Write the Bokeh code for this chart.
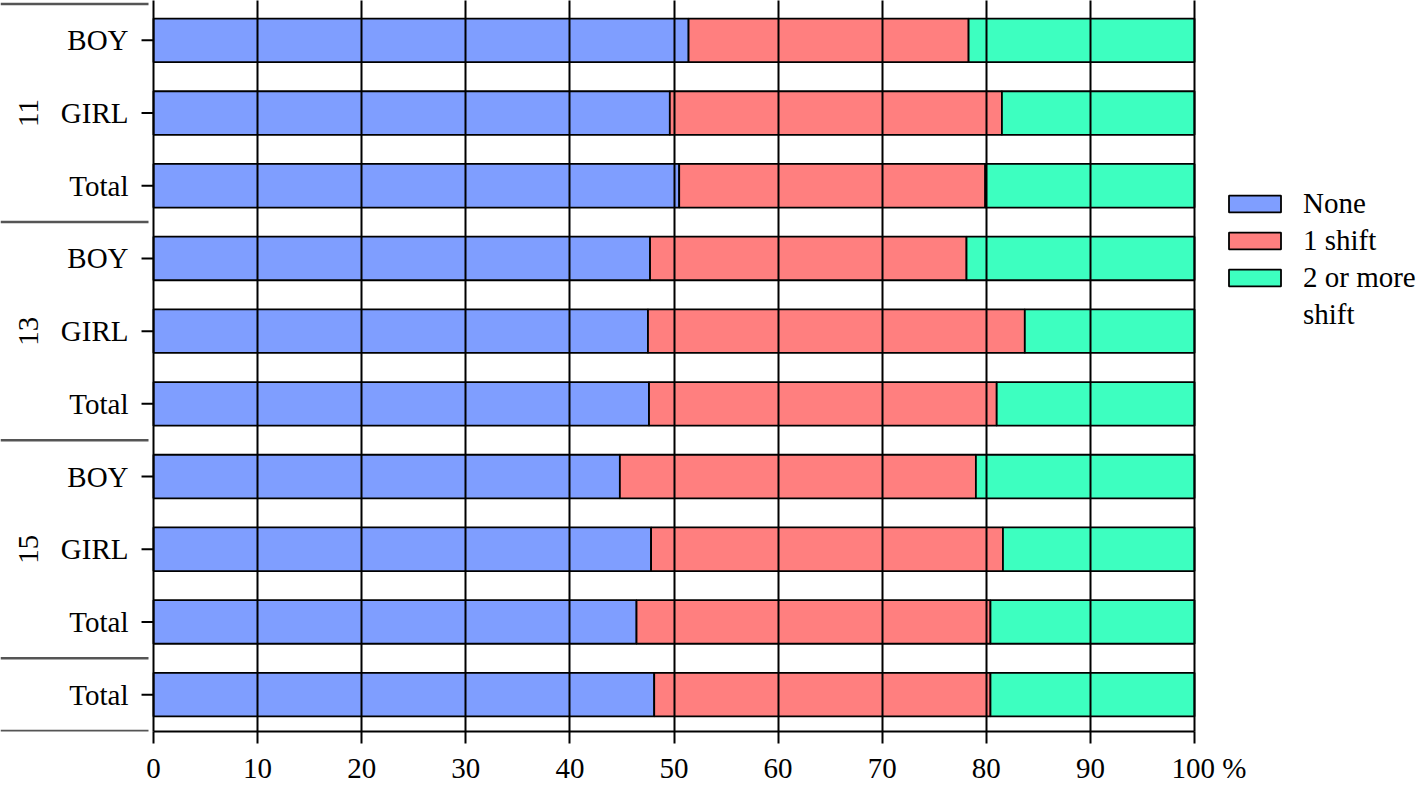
import math
from bokeh.plotting import figure
from bokeh.models import ColumnDataSource, Range1d, FixedTicker, LinearAxis, Legend, LegendItem
from bokeh.core.properties import value
from bokeh.embed import file_html
from bokeh.resources import INLINE

# ---- data ----
groups = ["11", "11", "11", "13", "13", "13", "15", "15", "15", ""]
rows = ["BOY", "GIRL", "Total", "BOY", "GIRL", "Total", "BOY", "GIRL", "Total", "Total"]
none = [51.4, 49.6, 50.5, 47.7, 47.5, 47.6, 44.8, 47.8, 46.4, 48.1]
one_shift = [26.9, 31.9, 29.4, 30.4, 36.2, 33.4, 34.2, 33.8, 34.0, 32.3]
two_more = [21.7, 18.5, 20.1, 21.9, 16.3, 19.0, 21.0, 18.4, 19.6, 19.6]
series = ["None", "1 shift", "2 or more", "shift"]
colors = ["#7F9EFF", "#FF7F7F", "#3DFFC0"]
x_ticks = [0, 10, 20, 30, 40, 50, 60, 70, 80, 90, 100]

FONT = "Liberation Serif"
FS = "29px"

n = len(rows)
ypos = list(range(n))
src = ColumnDataSource(dict(y=ypos, none=none, one=one_shift, two=two_more, row=rows))

W, H = 1416, 786
px_per_unit = 10.41
x0 = -153 / px_per_unit
x1 = x0 + W / px_per_unit

p = figure(width=W, height=H, output_backend="svg", toolbar_location=None,
           x_range=Range1d(x0, x1), y_range=Range1d(n - 0.493, -0.548),
           min_border_left=0, min_border_right=0, min_border_top=0, min_border_bottom=0,
           x_axis_location=None, y_axis_location=None)
p.outline_line_color = None
p.background_fill_color = "white"

rs = p.hbar_stack(["none", "one", "two"], y="y", height=0.6, source=src,
                  color=colors, line_color="black", line_width=1.8)

# invisible renderer for the second line of the last legend label
blank = p.hbar(y=[], right=[], height=0.6, fill_alpha=0, line_alpha=0)

# x axis
ax = LinearAxis(ticker=FixedTicker(ticks=x_ticks), bounds=(0, 100))
ax.axis_line_width = 2
ax.axis_line_color = "black"
ax.major_tick_line_width = 2
ax.major_tick_line_color = "black"
ax.major_tick_out = 12
ax.major_tick_in = 0
ax.minor_tick_line_color = None
ax.major_label_text_font = FONT
ax.major_label_text_font_size = FS
ax.major_label_text_color = "black"
ax.major_label_standoff = 8
ax.major_label_overrides = {100: "\u00a0\u00a0\u00a0\u00a0100 %"}
p.add_layout(ax, "below")

p.xgrid.ticker = FixedTicker(ticks=x_ticks)
p.xgrid.grid_line_color = "black"
p.xgrid.grid_line_width = 2
p.xgrid.level = "overlay"
p.ygrid.visible = False

# y "axis": ticks and row labels
p.segment(x0=[-1.15] * n, x1=[0] * n, y0=ypos, y1=ypos, line_color="black", line_width=2)
p.text(x=[-2.4] * n, y=ypos, text=rows, text_font=value(FONT), text_font_size=FS,
       text_color="black", text_align="right", text_baseline="middle")

# group labels and separators
gnames, gcenters, seps = [], [], [-0.5]
i = 0
while i < n:
    j = i
    while j + 1 < n and groups[j + 1] == groups[i]:
        j += 1
    if groups[i]:
        gnames.append(groups[i])
        gcenters.append((i + j) / 2)
    seps.append(j + 0.5)
    i = j + 1
p.text(x=[-12.0] * len(gnames), y=gcenters, text=gnames, angle=math.pi / 2,
       text_font=value(FONT), text_font_size=FS, text_color="black",
       text_align="center", text_baseline="middle")
p.segment(x0=[x0] * len(seps), x1=[-0.48] * len(seps), y0=seps, y1=seps,
          line_color="#555555", line_width=2.5)

items = [LegendItem(label=series[k], renderers=[rs[k]]) for k in range(3)]
items.append(LegendItem(label=series[3], renderers=[blank]))
lg = Legend(items=items, location=(1222, 400))
lg.padding = 0
lg.margin = 0
lg.border_line_color = None
lg.background_fill_alpha = 0
lg.glyph_width = 65
lg.glyph_height = 21
lg.label_standoff = 16
lg.spacing = 4
lg.label_text_font = FONT
lg.label_text_font_size = FS
lg.label_text_color = "black"
p.add_layout(lg, "center")

open("out.html", "w").write(file_html(p, INLINE))
